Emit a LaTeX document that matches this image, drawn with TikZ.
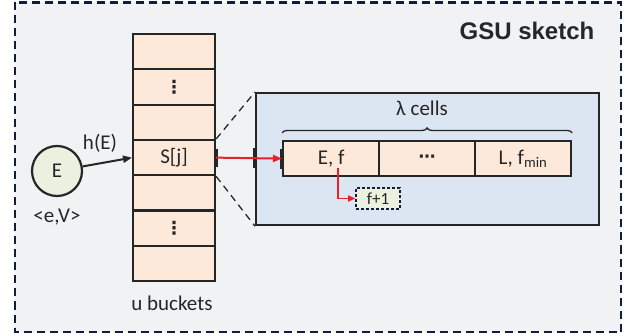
\documentclass[tikz,border=0pt]{standalone}
\usepackage{fontspec}
\setmainfont{Carlito}
\newfontfamily\headfont{Liberation Sans}
\newfontfamily\symfont{DejaVu Sans}
\usetikzlibrary{arrows.meta,decorations.pathreplacing,calc}
\definecolor{framebg}{HTML}{F1F2F4}
\definecolor{navy}{HTML}{0F1E3C}
\definecolor{peach}{HTML}{FDE9D9}
\definecolor{paleblue}{HTML}{DCE6F2}
\definecolor{palegreen}{HTML}{EBF1DE}
\definecolor{redline}{HTML}{E8202A}
\definecolor{txt}{HTML}{262626}
\tikzset{
  frame/.style={draw=navy, line width=2.8pt, fill=framebg, dash pattern=on 8pt off 5pt},
  bucket/.style={draw=txt, line width=2.2pt, fill=peach, minimum width=82pt, minimum height=35.3pt, inner sep=0pt, anchor=north west, text=txt, font=\fontsize{21}{24}\selectfont},
  cell/.style={draw=txt, line width=2.2pt, fill=peach, minimum width=96pt, minimum height=35pt, inner sep=0pt, anchor=north west, text=txt, font=\fontsize{21}{24}\selectfont},
  lbl/.style={text=txt, font=\fontsize{21}{24}\selectfont, inner sep=0pt},
  vdotsfont/.style={font=\symfont\bfseries\fontsize{18}{20}\selectfont},
  redarrow/.style={draw=redline, line width=2pt, -{Triangle[length=9pt,width=7pt]}},
  bar/.style={line width=3.6pt, draw=txt},
  zoomline/.style={draw=txt, line width=1.3pt, dash pattern=on 7pt off 5pt},
}
\begin{document}
\begin{tikzpicture}[x=1pt,y=-1pt]
\useasboundingbox (0,0) rectangle (631,336);
\fill[white] (0,0) rectangle (631,336);
\draw[frame] (15,2.5) rectangle (621,332);
\node[text=txt, font=\headfont\bfseries\fontsize{24}{27}\selectfont, inner sep=0pt] (title) at (527,31) {GSU sketch};
% buckets
\node[bucket] (b0) at (132,33) {};
\node[bucket, vdotsfont] (b1) at (132,68.3) {⋮};
\node[bucket] (b2) at (132,103.6) {};
\node[bucket] (b3) at (132,138.9) {S[j]};
\node[bucket] (b4) at (132,174.2) {};
\node[bucket, vdotsfont] (b5) at (132,209.5) {⋮};
\node[bucket] (b6) at (132,244.8) {};
\node[lbl] (ub) at (172,303) {u buckets};
% element
\node[circle, draw=txt, line width=2.2pt, fill=palegreen, minimum size=50pt, inner sep=0pt, text=txt, font=\fontsize{21}{24}\selectfont] (E) at (57,171) {E};
\node[lbl] (ev) at (57,217) {<e,V>};
\draw[txt, line width=2pt, -{Triangle[length=9pt,width=7pt]}] (E) -- (b3.west);
\node[lbl] (hE) at (100,143) {h(E)};
% zoom box
\node[draw=txt, line width=2.2pt, fill=paleblue, minimum width=343pt, minimum height=132pt, anchor=north west, inner sep=0pt] (zoom) at (255,92) {};
\draw[zoomline] (b3.north east) -- (zoom.north west);
\draw[zoomline] (b3.south east) -- (zoom.south west);
% cells
\node[cell] (c1) at (282,140) {E, f};
\node[cell, font=\symfont\bfseries\fontsize{17}{18}\selectfont] (c2) at (378,140) {⋯};
\node[cell] (c3) at (474,140) {L, f\textsubscript{min}};
\draw[txt, line width=1.3pt, decorate, decoration={brace, amplitude=5pt}] (c1.north west) ++(0,-7) coordinate (brl) -- ($(c3.north east)+(0,-7)$) coordinate (brr);
\node[lbl] (lam) at (422,108) {λ cells};
% f+1
\node[draw=navy, line width=1.6pt, dash pattern=on 3pt off 2pt, fill=palegreen, minimum width=44pt, minimum height=21pt, inner sep=0pt, text=txt, font=\fontsize{17}{19}\selectfont] (fp) at (378,198.5) {f+1};
\coordinate (fstart) at (338,168);
\draw[redline, line width=1.6pt, -{Triangle[length=7pt,width=6pt]}] (fstart) |- (fp.west);
% connection
\draw[bar] ($(b3.east)+(0,-9)$) -- ($(b3.east)+(0,9)$);
\draw[bar] ($(zoom.west |- b3.east)+(0,-10)$) -- ($(zoom.west |- b3.east)+(0,10)$);
\draw[bar] ($(c1.west)+(0,-10)$) -- ($(c1.west)+(0,10)$);
\draw[redarrow] (b3.east) -- (c1.west);
\end{tikzpicture}
\end{document}
